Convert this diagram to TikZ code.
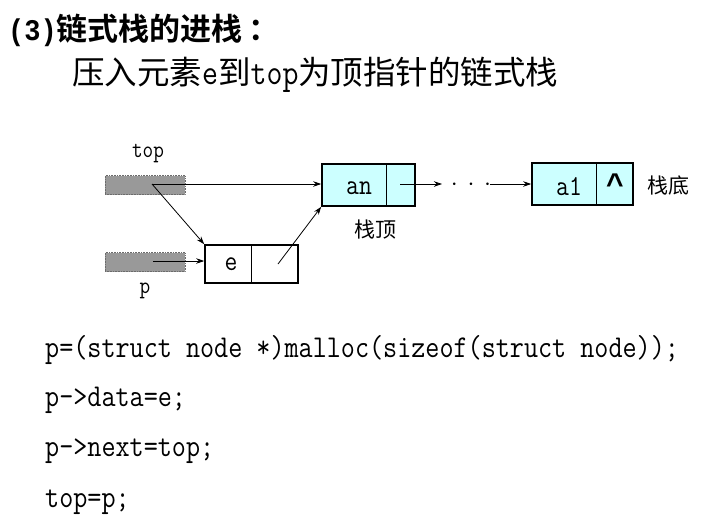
\documentclass[tikz,border=0pt]{standalone}
\usepackage{fontspec}
\usetikzlibrary{arrows.meta}
\newfontfamily\cjk{Noto Sans CJK SC}
\newfontfamily\cjkb{Noto Sans CJK SC Bold}
\newfontfamily\lmm{Latin Modern Mono}[FakeStretch=0.86]
\newfontfamily\monob{Liberation Mono Bold}[FakeStretch=0.9]
\newfontfamily\caretfont{Liberation Sans Bold}
\definecolor{cellfill}{HTML}{CCFFFF}
\definecolor{ptrgray}{HTML}{999999}
\tikzset{
  cellbox/.style={draw=black,line width=1.6pt,minimum height=42pt,inner sep=0pt},
  ptrbox/.style={draw=ptrgray!70!black,densely dotted,line width=0.6pt,fill=ptrgray,minimum width=80pt,minimum height=19pt,inner sep=0pt},
  divider/.style={line width=0.8pt},
  link/.style={line width=0.8pt,-{Stealth[length=8pt,width=5.5pt]}},
  lbl/.style={inner sep=0pt,font=\lmm\fontsize{24}{24}\selectfont},
  cell/.style={inner sep=0pt,font=\lmm\fontsize{29}{29}\selectfont},
  code/.style={anchor=west,inner sep=0pt,font=\lmm\fontsize{31.8}{32}\selectfont},
  note/.style={inner sep=0pt,font=\cjk\fontsize{21}{21}\selectfont}
}
\begin{document}
\begin{tikzpicture}[x=1pt,y=-1pt]
\useasboundingbox (0,0) rectangle (728,530);
% titles
\node[anchor=west,inner sep=0pt] (title) at (8,30) {\cjkb\fontsize{31}{31}\selectfont {\monob\fontsize{30}{30}\selectfont(3)}链式栈的进栈\hspace{6pt}：};
\node[anchor=west,inner sep=0pt] (sub) at (72,75) {\cjk\fontsize{32.5}{33}\selectfont 压入元素{\lmm\fontsize{36}{36}\selectfont e}到{\lmm\fontsize{36}{36}\selectfont top}为顶指针的链式栈};
% pointer variables
\node[lbl] (toplbl) at (148,154) {top};
\node[ptrbox] (topbox) at (145,185) {};
\node[ptrbox] (pbox) at (145,262) {};
\node[lbl] (plbl) at (145,291) {p};
\coordinate (tp) at (152,184);
\coordinate (pp) at (153,261);
% node e
\node[cellbox,minimum width=93pt,minimum height=38pt,fill=white] (ebox) at (251.5,264) {};
\draw[divider] (251,245) -- (251,283);
\node[cell] (etxt) at (231,264) {e};
\coordinate (enext) at (278,264);
% node an
\node[cellbox,minimum width=93pt,fill=cellfill] (anbox) at (368.5,185) {};
\draw[divider] (386,164) -- (386,206);
\node[cell] (antxt) at (359,188) {an};
\coordinate (annext) at (400,184);
\coordinate (dotsin) at (442,184);
\node[inner sep=0pt,font=\fontsize{24}{24}\selectfont] (dots) at (471,185) {$\cdot\,\cdot\,\cdot$};
\coordinate (dotsout) at (490,184);
\node[note] (stop) at (375,230) {栈顶};
% node a1
\node[cellbox,minimum width=101pt,fill=cellfill] (a1box) at (582.5,184) {};
\draw[divider] (596,163) -- (596,205);
\node[cell] (a1txt) at (569,187) {a1};
\node[inner sep=0pt,font=\caretfont\fontsize{30}{30}\selectfont] (nil) at (615,184) {\char"5E};
\node[note] (sbot) at (668,186) {栈底};
% links
\draw[link] (tp) -- (anbox.west|-tp);
\draw[link] (tp) -- (ebox.north west);
\draw[link] (pp) -- (ebox.west|-pp);
\draw[link] (enext) -- (anbox.south west);
\draw[link] (annext) -- (dotsin);
\draw[link] (dotsout) -- (a1box.west|-dotsout);
% code
\node[code] (c1) at (45,350) {p=(struct node *)malloc(sizeof(struct node));};
\node[code] (c2) at (45,400) {p->data=e;};
\node[code] (c3) at (45,451) {p->next=top;};
\node[code] (c4) at (45,502) {top=p;};
\end{tikzpicture}
\end{document}
